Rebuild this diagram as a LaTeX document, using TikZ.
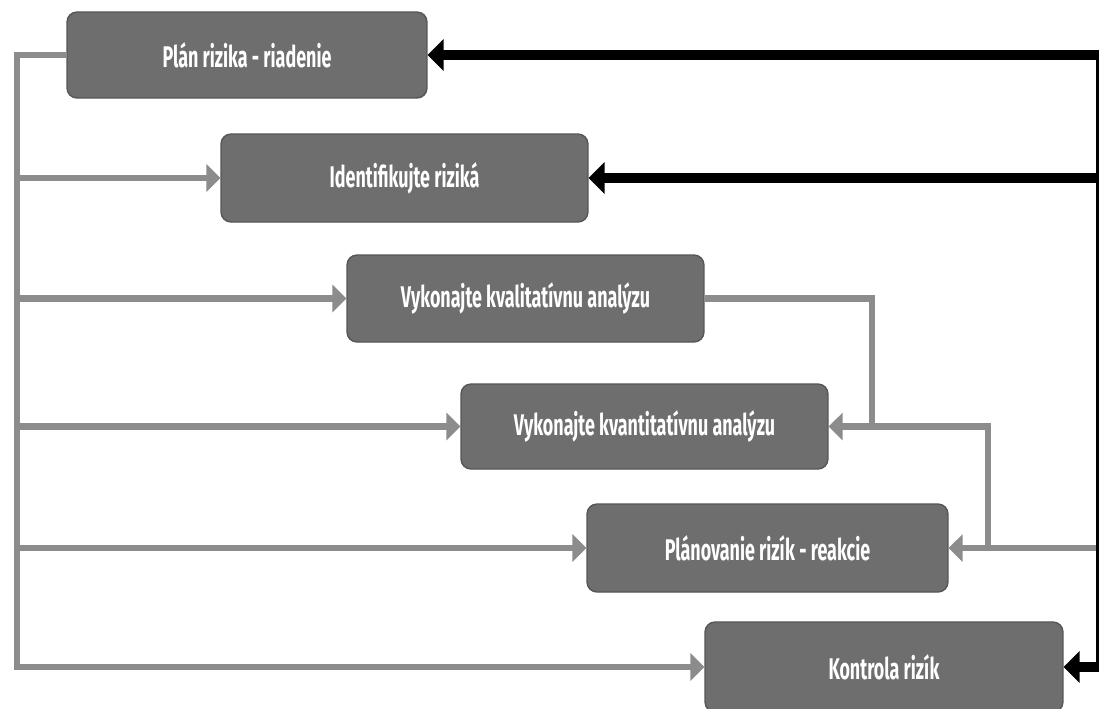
\documentclass[tikz,border=0pt]{standalone}
\usepackage{fontspec}
\newfontfamily\boxfont[FakeStretch=0.6]{Fira Sans}
\usetikzlibrary{arrows.meta}
\definecolor{boxgray}{HTML}{6E6E6E}
\definecolor{boxedge}{HTML}{565656}
\definecolor{linegray}{HTML}{8C8C8C}
\begin{document}
\begin{tikzpicture}[x=0.02cm,y=-0.02cm,
 riskbox/.style={draw=boxedge, line width=0.8pt, fill=boxgray, rounded corners=0.2cm, text=white,
   font=\boxfont\bfseries\fontsize{17}{20}\selectfont, inner sep=0pt, anchor=center},
 feed/.style={draw=linegray, line width=3.6pt},
 feedarrow/.style={feed, -{Triangle[length=0.28cm,width=0.54cm]}},
 ctrl/.style={draw=black, line width=5.7pt, -{Triangle[length=0.32cm,width=0.62cm]}},
]
\useasboundingbox (0,0) rectangle (1099,708);
\fill[white] (0,0) rectangle (1099,708);

\node[riskbox, minimum width=7.2cm,  minimum height=1.72cm] (b1) at (247,55)    {Plán rizika - riadenie};
\node[riskbox, minimum width=7.34cm, minimum height=1.76cm] (b2) at (404.5,178) {Identifikujte riziká};
\node[riskbox, minimum width=7.14cm, minimum height=1.74cm] (b3) at (525.5,298.5) {Vykonajte kvalitatívnu analýzu};
\node[riskbox, minimum width=7.34cm, minimum height=1.70cm] (b4) at (644.5,426.5) {Vykonajte kvantitatívnu analýzu};
\node[riskbox, minimum width=7.22cm, minimum height=1.76cm] (b5) at (767.5,548) {Plánovanie rizík - reakcie};
\node[riskbox, minimum width=7.16cm, minimum height=1.80cm] (b6) at (884,667)   {Kontrola rizík};

\coordinate (tr) at (17,0);
\coordinate (j1) at (872,0);
\coordinate (j2) at (988,0);
\coordinate (R) at (1099,0);
\coordinate (Rv) at (1097.5,0);

% left trunk
\draw[feedarrow] (b1.west) -- (b1.west -| tr) |- (b6.west);
\draw[feedarrow] (b2.west -| tr) -- (b2.west);
\draw[feedarrow] (b3.west -| tr) -- (b3.west);
\draw[feedarrow] (b4.west -| tr) -- (b4.west);
\draw[feedarrow] (b5.west -| tr) -- (b5.west);

% right gray connectors
\draw[feed] (b3.east) -- (b3.east -| j1) -- (b4.east -| j1);
\draw[feedarrow] (b5.east -| j2) |- (b4.east);
\draw[feedarrow] (b5.east -| R) -- (b5.east);

% black control loop
\draw[black, line width=1.2pt] (b1.east -| Rv) -- (b6.east -| Rv);
\draw[ctrl] (b1.east -| R) -- (b1.east);
\draw[ctrl] (b2.east -| R) -- (b2.east);
\draw[ctrl] (b6.east -| R) -- (b6.east);
\end{tikzpicture}
\end{document}
